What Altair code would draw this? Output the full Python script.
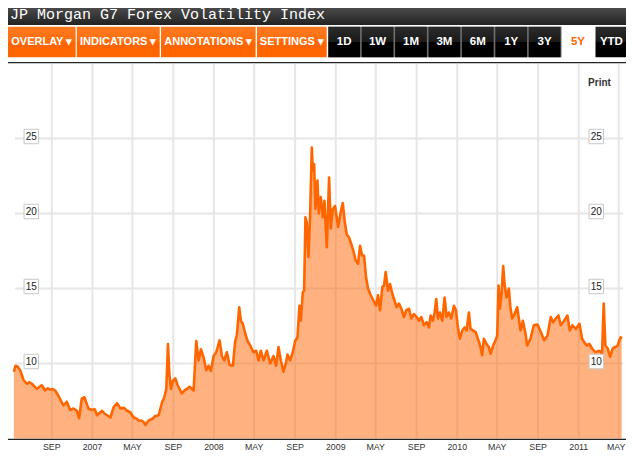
import altair as alt
import pandas as pd

# ---------------- data ----------------
dates = [
    "2006-05-10", "2006-05-15", "2006-05-21", "2006-05-29", "2006-06-08", "2006-06-18", "2006-06-26",
    "2006-07-03", "2006-07-12", "2006-07-18", "2006-07-26", "2006-08-02", "2006-08-12", "2006-08-20",
    "2006-08-27", "2006-09-04", "2006-09-11", "2006-09-21", "2006-09-29", "2006-10-06", "2006-10-16",
    "2006-10-26", "2006-11-05", "2006-11-15", "2006-11-22", "2006-11-30", "2006-12-08", "2006-12-20",
    "2006-12-29", "2007-01-08", "2007-01-15", "2007-01-22", "2007-01-30", "2007-02-07", "2007-02-14",
    "2007-02-24", "2007-03-06", "2007-03-16", "2007-03-26", "2007-04-05", "2007-04-15", "2007-04-25",
    "2007-05-05", "2007-05-12", "2007-05-20", "2007-05-28", "2007-06-04", "2007-06-09", "2007-06-19",
    "2007-06-29", "2007-07-09", "2007-07-19", "2007-07-29", "2007-08-05", "2007-08-11", "2007-08-16",
    "2007-08-20", "2007-08-25", "2007-08-31", "2007-09-07", "2007-09-14", "2007-09-20", "2007-09-27",
    "2007-10-04", "2007-10-12", "2007-10-20", "2007-11-01", "2007-11-09", "2007-11-16", "2007-11-23",
    "2007-12-01", "2007-12-09", "2007-12-16", "2007-12-23", "2007-12-31", "2008-01-08", "2008-01-18",
    "2008-01-25", "2008-02-01", "2008-02-09", "2008-02-17", "2008-02-27", "2008-03-05", "2008-03-10",
    "2008-03-17", "2008-03-22", "2008-03-28", "2008-04-04", "2008-04-11", "2008-04-19", "2008-04-29",
    "2008-05-07", "2008-05-14", "2008-05-21", "2008-05-29", "2008-06-08", "2008-06-18", "2008-06-28",
    "2008-07-06", "2008-07-13", "2008-07-20", "2008-07-28", "2008-08-05", "2008-08-09", "2008-08-17",
    "2008-08-25", "2008-09-01", "2008-09-08", "2008-09-14", "2008-09-18", "2008-09-24", "2008-09-28",
    "2008-10-02", "2008-10-06", "2008-10-11", "2008-10-16", "2008-10-21", "2008-10-24", "2008-10-28",
    "2008-11-01", "2008-11-07", "2008-11-11", "2008-11-17", "2008-11-23", "2008-11-28", "2008-12-05",
    "2008-12-12", "2008-12-17", "2008-12-23", "2008-12-30", "2009-01-08", "2009-01-16", "2009-01-22",
    "2009-01-28", "2009-02-03", "2009-02-10", "2009-02-16", "2009-02-23", "2009-03-02", "2009-03-09",
    "2009-03-15", "2009-03-21", "2009-03-27", "2009-04-02", "2009-04-08", "2009-04-16", "2009-04-24",
    "2009-05-02", "2009-05-08", "2009-05-14", "2009-05-21", "2009-05-26", "2009-05-31", "2009-06-07",
    "2009-06-13", "2009-06-20", "2009-06-25", "2009-07-03", "2009-07-10", "2009-07-17", "2009-07-25",
    "2009-08-01", "2009-08-09", "2009-08-16", "2009-08-24", "2009-09-01", "2009-09-08", "2009-09-15",
    "2009-09-23", "2009-10-01", "2009-10-08", "2009-10-13", "2009-10-20", "2009-10-25", "2009-10-30",
    "2009-11-04", "2009-11-10", "2009-11-17", "2009-11-24", "2009-11-30", "2009-12-07", "2009-12-14",
    "2009-12-22", "2009-12-28", "2010-01-03", "2010-01-09", "2010-01-16", "2010-01-23", "2010-01-29",
    "2010-02-05", "2010-02-10", "2010-02-18", "2010-02-25", "2010-03-04", "2010-03-12", "2010-03-17",
    "2010-03-22", "2010-03-30", "2010-04-06", "2010-04-11", "2010-04-19", "2010-04-26", "2010-05-01",
    "2010-05-05", "2010-05-09", "2010-05-14", "2010-05-19", "2010-05-23", "2010-05-29", "2010-06-05",
    "2010-06-10", "2010-06-15", "2010-06-22", "2010-06-30", "2010-07-06", "2010-07-10", "2010-07-17",
    "2010-07-25", "2010-07-30", "2010-08-09", "2010-08-19", "2010-08-30", "2010-09-09", "2010-09-19",
    "2010-09-29", "2010-10-09", "2010-10-16", "2010-10-24", "2010-11-01", "2010-11-08", "2010-11-18",
    "2010-11-28", "2010-12-05", "2010-12-13", "2010-12-23", "2011-01-03", "2011-01-11", "2011-01-18",
    "2011-01-25", "2011-02-02", "2011-02-10", "2011-02-20", "2011-03-04", "2011-03-12", "2011-03-17",
    "2011-03-22", "2011-03-29", "2011-04-05", "2011-04-13", "2011-04-21", "2011-04-28", "2011-05-03",
    "2011-05-07", "2011-05-10",
]
values = [
    9.45, 9.85, 9.8, 9.55, 8.9, 8.65, 8.75,
    8.65, 8.45, 8.3, 8.45, 8.55, 8.2, 8.35,
    8.25, 8.3, 8.2, 7.85, 7.5, 7.2, 7.45,
    6.9, 7.0, 6.85, 6.35, 7.65, 7.75, 7.0,
    6.9, 6.95, 6.55, 6.7, 6.85, 6.65, 6.55,
    6.4, 7.1, 7.35, 7.0, 7.05, 6.85, 6.75,
    6.4, 6.35, 6.2, 6.2, 6.1, 5.9, 6.2,
    6.3, 6.5, 6.55, 7.4, 7.75, 8.3, 11.3,
    9.3, 8.3, 8.85, 9.0, 8.55, 8.3, 8.0,
    8.2, 8.3, 8.45, 8.2, 11.5, 10.2, 10.95,
    10.4, 9.55, 9.85, 9.5, 10.5, 10.75, 11.55,
    10.5, 10.2, 10.75, 9.9, 9.85, 11.5, 11.9,
    13.75, 12.85, 12.65, 12.0, 11.5, 11.2, 10.75,
    10.85, 10.2, 10.85, 10.2, 10.85, 10.0, 10.5,
    9.85, 11.1, 10.2, 9.45, 10.1, 10.6, 10.2,
    10.75, 11.5, 11.75, 13.85, 12.85, 14.75, 14.85,
    19.75, 19.4, 17.1, 19.85, 24.4, 22.85, 23.3,
    20.3, 22.2, 20.0, 21.1, 19.75, 20.85, 17.75,
    22.4, 19.0, 20.3, 20.5, 19.1, 20.1, 20.7,
    19.45, 18.6, 18.4, 18.0, 17.5, 16.85, 16.65,
    17.85, 17.2, 17.2, 15.75, 15.0, 14.55, 14.2,
    13.85, 14.55, 13.55, 15.1, 15.2, 16.1, 14.85,
    15.3, 14.65, 14.3, 13.75, 14.0, 13.65, 13.1,
    13.55, 13.65, 13.0, 13.3, 13.1, 12.85, 13.1,
    12.55, 12.75, 12.4, 13.2, 12.85, 13.4, 14.3,
    13.0, 13.4, 12.85, 14.4, 13.1, 13.4, 13.0,
    13.85, 13.55, 12.4, 11.65, 12.2, 12.4, 12.2,
    13.4, 12.3, 12.2, 12.1, 11.65, 11.1, 10.55,
    11.65, 11.3, 11.1, 10.65, 11.2, 11.55, 11.85,
    15.2, 13.65, 14.65, 16.5, 15.3, 14.4, 15.0,
    13.65, 13.0, 13.3, 13.75, 12.85, 12.2, 12.85,
    12.0, 11.2, 11.65, 12.55, 12.6, 12.1, 11.55,
    11.85, 13.1, 12.75, 13.0, 13.2, 12.55, 12.85,
    13.2, 12.2, 12.55, 12.3, 12.65, 11.65, 11.4,
    11.2, 11.3, 11.0, 10.75, 10.85, 10.65, 14.0,
    11.2, 11.0, 10.45, 11.0, 11.1, 11.2, 11.55,
    11.75, 11.65,
]

tick_dates = ["2006-09-01", "2007-01-01", "2007-05-01", "2007-09-01", "2008-01-01",
              "2008-05-01", "2008-09-01", "2009-01-01", "2009-05-01", "2009-09-01",
              "2010-01-01", "2010-05-01", "2010-09-01", "2011-01-01", "2011-05-01"]
tick_labels = ["SEP", "2007", "MAY", "SEP", "2008", "MAY", "SEP", "2009", "MAY", "SEP",
               "2010", "MAY", "SEP", "2011", "MAY"]
grid_values = [10, 15, 20, 25]
grid_labels = ["10", "15", "20", "25"]

title_text = "JP Morgan G7 Forex Volatility Index"
menu_labels = ["OVERLAY \u25be", "INDICATORS \u25be", "ANNOTATIONS \u25be", "SETTINGS \u25be"]
range_labels = ["1D", "1W", "1M", "3M", "6M", "1Y", "3Y", "5Y", "YTD"]
selected_range = "5Y"
print_label = "Print"

# ---------------- layout ----------------
W, H = 618, 446
ORANGE = "#ff6600"
FONT = "Liberation Sans"

series = pd.DataFrame({"date": dates, "value": values})
ticks = pd.DataFrame({"date": tick_dates, "label": tick_labels})
ticks_main = ticks.iloc[:-1]
ticks_last = ticks.iloc[-1:]
grid = pd.DataFrame({"value": grid_values, "label": grid_labels})
one = pd.DataFrame({"k": [0]})

xs = alt.Scale(type="utc", nice=False,
               domain=[alt.DateTime(year=2006, month=4, date=22, hours=10, utc=True),
                       alt.DateTime(year=2011, month=5, date=22, hours=22, utc=True)])
ys = alt.Scale(domain=[3.9667, 33.7], nice=False, zero=False)
X = alt.X("date:T", scale=xs, axis=None)
Y = alt.Y("value:Q", scale=ys, axis=None)


def grad(stops):
    return alt.LinearGradient(gradient="linear",
                              stops=[alt.GradientStop(color=c, offset=o) for c, o in stops],
                              x1=0, x2=0, y1=0, y2=1)


def box(x0, x1, y0, y1, fill, **kw):
    return alt.Chart(one).mark_rect(fill=fill, **kw).encode(
        x=alt.value(x0), x2=alt.value(x1), y=alt.value(y0), y2=alt.value(y1))


def label(txt, x, y, **kw):
    return alt.Chart(one).mark_text(text=txt, **kw).encode(x=alt.value(x), y=alt.value(y))


layers = []
# title bar
layers.append(box(0, W, 0, 17, grad([("#4a4a4a", 0), ("#222222", 1)])))
layers.append(label(title_text, 2, 10.5, font="Liberation Mono", fontSize=15, color="white",
                    align="left", baseline="alphabetic"))

# toolbar
BY0, BY1 = 18.7, 49.3
orange_edges = [(0, 67.6), (68.8, 151.7), (153, 247.6), (249, 318.7)]
og = grad([("#ff7a22", 0), ("#ff6d0c", 0.5), ("#ff6400", 0.5), ("#ff6600", 1)])
for (a, b), t in zip(orange_edges, menu_labels):
    layers.append(box(a, b, BY0, BY1, og))
    layers.append(label(t, (a + b) / 2, 34, font=FONT, fontSize=11, fontWeight="bold",
                        color="white", align="center", baseline="middle"))

layers.append(box(320.3, 553.5, BY0, BY1, "#6e6e6e"))
bg = grad([("#2c2c2c", 0), ("#191919", 0.5), ("#000000", 0.5), ("#000000", 1)])
for i, t in enumerate(range_labels):
    a = 320.3 + i * 33.4
    b = a + 31.8
    sel = t == selected_range
    layers.append(box(a, b, BY0, BY1, "white" if sel else bg))
    layers.append(label(t, (a + b) / 2, 34, font=FONT, fontSize=11.5, fontWeight="bold",
                        color=ORANGE if sel else "white", align="center", baseline="middle"))

# separator line
layers.append(alt.Chart(one).mark_rule(color="#222222", strokeWidth=1.3).encode(
    x=alt.value(0), x2=alt.value(W), y=alt.value(54.7)))

# grid
layers.append(alt.Chart(ticks).mark_rule(color="#e6e6e6", strokeWidth=2).encode(
    x=X, y=alt.value(56), y2=alt.value(430.5)))
layers.append(alt.Chart(grid).mark_rule(color="#e6e6e6", strokeWidth=2).encode(
    y=Y, x=alt.value(7), x2=alt.value(615)))

# series
layers.append(alt.Chart(series).mark_area(color=ORANGE, opacity=0.5).encode(
    x=X, y=Y, y2=alt.datum(5)))
layers.append(alt.Chart(series).mark_line(color=ORANGE, strokeWidth=2.6, strokeJoin="round").encode(
    x=X, y=Y))

# x axis line and labels
layers.append(alt.Chart(one).mark_rule(color="#222222", strokeWidth=1.2).encode(
    x=alt.value(0), x2=alt.value(W), y=alt.value(431.3)))
layers.append(alt.Chart(ticks_main).mark_text(font=FONT, fontSize=8.8, color="#333333",
                                              align="center", baseline="middle").encode(
    x=X, y=alt.value(438.5), text="label:N"))
layers.append(alt.Chart(ticks_last).mark_text(font=FONT, fontSize=8.8, color="#333333",
                                              align="center", baseline="middle", dx=-2.5).encode(
    x=X, y=alt.value(438.5), text="label:N"))

# y labels in boxes, both sides
for cx in (23.3, 588.3):
    layers.append(alt.Chart(grid).mark_point(shape="square", filled=True, fill="white",
                                             stroke="#c8c8c8", strokeWidth=1, size=210,
                                             opacity=1, yOffset=-2).encode(
        y=Y, x=alt.value(cx)))
    layers.append(alt.Chart(grid).mark_text(font=FONT, fontSize=10, color="#222222",
                                            align="center", baseline="middle", yOffset=-2).encode(
        y=Y, x=alt.value(cx), text="label:N"))

layers.append(label(print_label, 591.5, 74.5, font=FONT, fontSize=10, fontWeight="bold",
                    color="#333333", align="center", baseline="middle"))

chart = alt.layer(*layers).properties(
    width=W, height=H, padding=0,
    autosize=alt.AutoSizeParams(type="none"),
    background="white",
).configure_view(stroke=None)

chart.save("out.html", embed_options={"renderer": "svg", "actions": False})
